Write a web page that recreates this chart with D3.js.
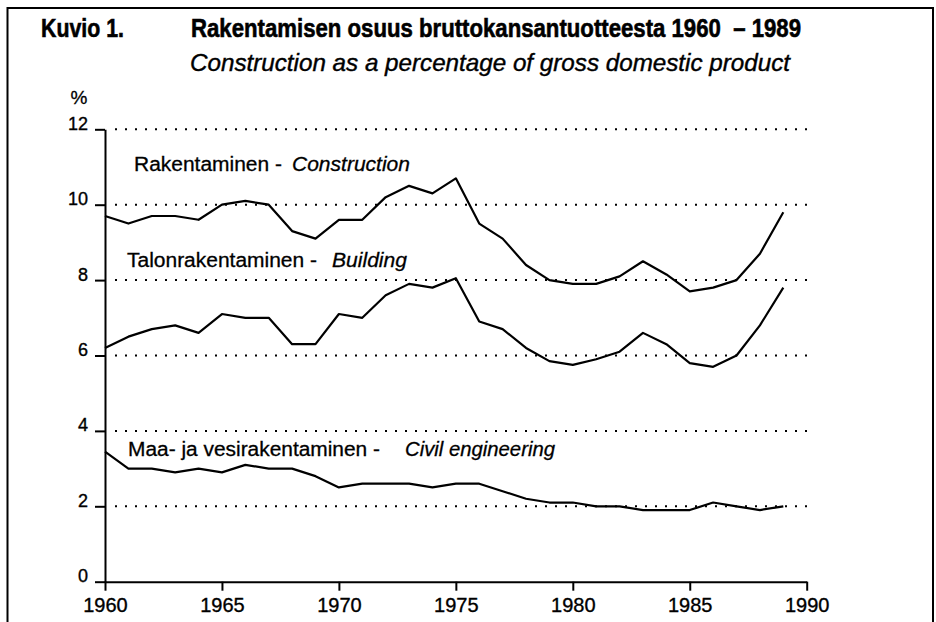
<!DOCTYPE html>
<html>
<head>
<meta charset="utf-8">
<script src="https://cdn.jsdelivr.net/npm/d3@7"></script>
<style>
  html, body { margin: 0; padding: 0; background: #fff; }
  svg { display: block; font-family: "Liberation Sans", Arial, sans-serif; }
</style>
</head>
<body>
<div id="chart"></div>
<script>
const years = [1960, 1961, 1962, 1963, 1964, 1965, 1966, 1967, 1968, 1969,
               1970, 1971, 1972, 1973, 1974, 1975, 1976, 1977, 1978, 1979,
               1980, 1981, 1982, 1983, 1984, 1985, 1986, 1987, 1988, 1989];
const construction = [9.7, 9.5, 9.7, 9.7, 9.6, 10.0, 10.1, 10.0, 9.3, 9.1,
                      9.6, 9.6, 10.2, 10.5, 10.3, 10.7, 9.5, 9.1, 8.4, 8.0,
                      7.9, 7.9, 8.1, 8.5, 8.15, 7.7, 7.8, 8.0, 8.7, 9.8];
const building = [6.2, 6.5, 6.7, 6.8, 6.6, 7.1, 7.0, 7.0, 6.3, 6.3,
                  7.1, 7.0, 7.6, 7.9, 7.8, 8.05, 6.9, 6.7, 6.2, 5.85,
                  5.75, 5.9, 6.1, 6.6, 6.3, 5.8, 5.7, 6.0, 6.8, 7.8];
const civil = [3.45, 3.0, 3.0, 2.9, 3.0, 2.9, 3.1, 3.0, 3.0, 2.8,
               2.5, 2.6, 2.6, 2.6, 2.5, 2.6, 2.6, 2.4, 2.2, 2.1,
               2.1, 2.0, 2.0, 1.9, 1.9, 1.9, 2.1, 2.0, 1.9, 2.0];
const xTicks = [1960, 1965, 1970, 1975, 1980, 1985, 1990];
const yTicks = [0, 2, 4, 6, 8, 10, 12];
const gridValues = [2, 4, 6, 8, 10, 12];

// series labels: finnish part, english part, value the label sits at
const labels = [
  { fi: "Rakentaminen -", en: "Construction", at: 10.9 },
  { fi: "Talonrakentaminen -", en: "Building", at: 8.35 },
  { fi: "Maa- ja vesirakentaminen -", en: "Civil engineering", at: 3.34 }
];

const width = 936, height = 622;

const svg = d3.select("#chart").append("svg")
  .attr("width", width)
  .attr("height", height)
  .attr("viewBox", [0, 0, width, height]);

const x = d3.scaleLinear().domain([1960, 1990]).range([105, 806.7]);
const y = d3.scaleLinear().domain([0, 12]).range([581.7, 129.3]);

// page frame
svg.append("rect")
  .attr("x", 7.5).attr("y", 8)
  .attr("width", 925.5).attr("height", 640)
  .attr("fill", "none")
  .attr("stroke", "#000")
  .attr("stroke-width", 2);

// titles
svg.append("text")
  .attr("x", 41).attr("y", 37)
  .attr("font-size", 26).attr("font-weight", "bold")
  .attr("stroke", "#000").attr("stroke-width", 0.6)
  .attr("textLength", 83).attr("lengthAdjust", "spacingAndGlyphs")
  .text("Kuvio 1.");

svg.append("text")
  .attr("x", 191).attr("y", 37)
  .attr("font-size", 26).attr("font-weight", "bold")
  .attr("stroke", "#000").attr("stroke-width", 0.6)
  .attr("textLength", 610).attr("lengthAdjust", "spacingAndGlyphs")
  .attr("xml:space", "preserve")
  .text("Rakentamisen osuus bruttokansantuotteesta 1960  \u2013 1989");

svg.append("text")
  .attr("x", 190).attr("y", 71)
  .attr("font-size", 24).attr("font-style", "italic")
  .attr("stroke", "#000").attr("stroke-width", 0.4)
  .attr("textLength", 600).attr("lengthAdjust", "spacingAndGlyphs")
  .text("Construction as a percentage of gross domestic product");

svg.append("text")
  .attr("x", 79).attr("y", 104)
  .attr("text-anchor", "middle")
  .attr("font-size", 19)
  .attr("stroke", "#000").attr("stroke-width", 0.3)
  .text("%");

// dotted gridlines
svg.append("g")
  .selectAll("line")
  .data(gridValues)
  .join("line")
    .attr("x1", 115).attr("x2", x(1990) + 2)
    .attr("y1", d => y(d)).attr("y2", d => y(d))
    .attr("stroke", "#000")
    .attr("stroke-width", 2)
    .attr("stroke-dasharray", "2,8");

// axes
const yAxis = svg.append("g")
  .attr("transform", `translate(${x(1960)},0)`)
  .call(d3.axisLeft(y).tickValues(yTicks).tickSize(10).tickSizeOuter(0));

const xAxis = svg.append("g")
  .attr("transform", `translate(0,${y(0)})`)
  .call(d3.axisBottom(x).tickValues(xTicks).tickFormat(d3.format("d")).tickSize(9).tickSizeOuter(0));

[yAxis, xAxis].forEach(g => {
  g.select(".domain").attr("stroke-width", 2);
  g.selectAll(".tick line").attr("stroke-width", 2);
  g.selectAll("text")
    .attr("fill", "#000").attr("font-family", null)
    .attr("stroke", "#000").attr("stroke-width", 0.35);
});

yAxis.selectAll("text")
  .attr("x", -17).attr("dy", 0)
  .attr("font-size", 18);

xAxis.selectAll("text")
  .attr("y", 30).attr("dy", 0)
  .attr("font-size", 20);

// series lines
const line = d3.line()
  .x((d, i) => x(years[i]))
  .y(d => y(d));

svg.append("g")
  .selectAll("path")
  .data([construction, building, civil])
  .join("path")
    .attr("d", line)
    .attr("fill", "none")
    .attr("stroke", "#000")
    .attr("stroke-width", 2.2)
    .attr("stroke-linejoin", "round");

// series labels
const labelPos = [
  { fiX: 134, fiW: 148, enX: 292, enW: 118 },
  { fiX: 127, fiW: 190, enX: 332, enW: 75 },
  { fiX: 128, fiW: 252, enX: 405, enW: 150 }
];

const lab = svg.append("g")
  .attr("font-size", 20)
  .attr("stroke", "#000").attr("stroke-width", 0.3)
  .selectAll("g")
  .data(labels)
  .join("g");

lab.append("text")
  .attr("x", (d, i) => labelPos[i].fiX)
  .attr("y", d => y(d.at))
  .attr("textLength", (d, i) => labelPos[i].fiW)
  .attr("lengthAdjust", "spacingAndGlyphs")
  .text(d => d.fi);

lab.append("text")
  .attr("x", (d, i) => labelPos[i].enX)
  .attr("y", d => y(d.at))
  .attr("font-style", "italic")
  .attr("textLength", (d, i) => labelPos[i].enW)
  .attr("lengthAdjust", "spacingAndGlyphs")
  .text(d => d.en);
</script>
</body>
</html>
